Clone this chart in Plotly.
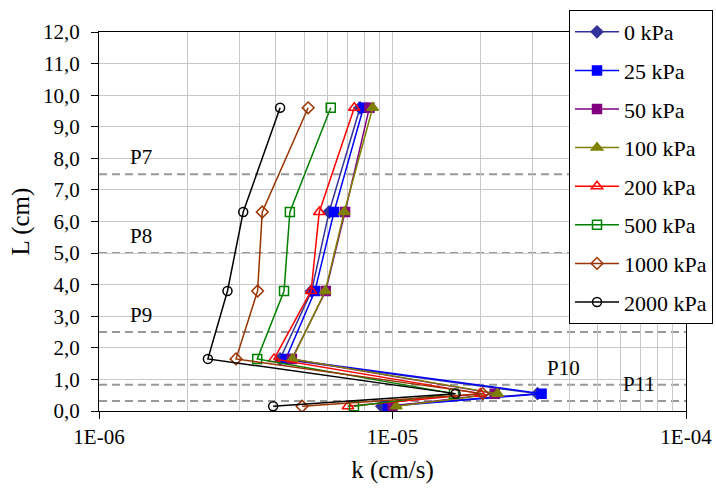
import plotly.graph_objects as go

# Sample depth of each measurement (cm)
depth_cm = [9.6, 6.3, 3.8, 1.65, 0.55, 0.15]

# Hydraulic conductivity k (cm/s) per confining pressure
k_0 = [7.75e-6, 6.08e-6, 5.30e-6, 4.14e-6, 3.12e-5, 9.20e-6]
k_25 = [7.96e-6, 6.32e-6, 5.44e-6, 4.33e-6, 3.22e-5, 9.66e-6]
k_50 = [8.34e-6, 6.89e-6, 5.92e-6, 4.54e-6, 2.23e-5, 1.00e-5]
k_100 = [8.56e-6, 6.85e-6, 5.90e-6, 4.56e-6, 2.28e-5, 1.03e-5]
k_200 = [7.41e-6, 5.63e-6, 5.28e-6, 3.95e-6, 1.99e-5, 7.05e-6]
k_500 = [6.16e-6, 4.47e-6, 4.27e-6, 3.46e-6, 1.62e-5, 7.39e-6]
k_1000 = [5.16e-6, 3.60e-6, 3.47e-6, 2.93e-6, 2.03e-5, 4.92e-6]
k_2000 = [4.14e-6, 3.10e-6, 2.74e-6, 2.35e-6, 1.64e-5, 3.92e-6]

series_names = ["0 kPa", "25 kPa", "50 kPa", "100 kPa",
                "200 kPa", "500 kPa", "1000 kPa", "2000 kPa"]
series_values = [k_0, k_25, k_50, k_100, k_200, k_500, k_1000, k_2000]

# Probe boundaries (cm) and their labels
probe_levels = [7.5, 5.0, 2.5, 0.83, 0.32]
probe_labels = ["P7", "P8", "P9", "P10", "P11"]
probe_label_x = [0.05, 0.05, 0.05, 0.76, 0.89]

y_ticks = list(range(0, 13))
x_ticks = [1e-6, 1e-5, 1e-4]
x_tick_text = ["1E-06", "1E-05", "1E-04"]

styles = [
    dict(color="#333399", symbol="diamond", filled=True),
    dict(color="#0000FF", symbol="square", filled=True),
    dict(color="#800080", symbol="square", filled=True),
    dict(color="#808000", symbol="triangle-up", filled=True),
    dict(color="#FF0000", symbol="triangle-up", filled=False),
    dict(color="#008000", symbol="square", filled=False),
    dict(color="#993300", symbol="diamond", filled=False),
    dict(color="#000000", symbol="circle", filled=False),
]

FONT = "Liberation Serif"

fig = go.Figure()
for name, vals, st in zip(series_names, series_values, styles):
    sym = st["symbol"] if st["filled"] else st["symbol"] + "-open"
    fig.add_trace(go.Scatter(
        x=vals, y=depth_cm, name=name, mode="lines+markers",
        legendgroup=name,
        line=dict(color=st["color"], width=1.5),
        marker=dict(symbol=sym, size=9 if st["symbol"] != "triangle-up" else 10,
                    color=st["color"],
                    line=dict(color=st["color"], width=1.5)),
    ))

for lvl in probe_levels:
    fig.add_shape(type="line", xref="x domain", x0=0, x1=1, yref="y",
                  y0=lvl, y1=lvl, layer="below",
                  line=dict(color="#999999", width=2, dash="8px,5px"))

for lbl, lvl, px in zip(probe_labels, probe_levels, probe_label_x):
    fig.add_annotation(text=lbl, xref="x domain", yref="y", x=px, y=lvl,
                       xanchor="left", yanchor="bottom", yshift=3,
                       showarrow=False, font=dict(family=FONT, size=21, color="black"))

minor_grid = [m * 10.0 ** e for e in (-6, -5) for m in range(2, 10)]

fig.update_layout(
    width=716, height=491,
    margin=dict(l=99, r=30, t=32, b=80, autoexpand=False),
    paper_bgcolor="white", plot_bgcolor="white",
    font=dict(family=FONT, size=21, color="black"),
    xaxis=dict(
        type="log", range=[-6, -4],
        tickvals=x_ticks, ticktext=x_tick_text,
        ticks="outside", ticklen=7, tickcolor="black",
        showline=True, linecolor="black", linewidth=1, mirror=True,
        showgrid=True, gridcolor="#c8c8c8", gridwidth=1,
        minor=dict(tickvals=minor_grid, showgrid=True, gridcolor="#c8c8c8",
                   gridwidth=1, ticks=""),
        zeroline=False,
        title=dict(text="k (cm/s)", standoff=12),
    ),
    yaxis=dict(
        range=[0, 12],
        tickvals=y_ticks, ticktext=[f"{v:.1f}".replace(".", ",") for v in y_ticks],
        ticks="outside", ticklen=7, tickcolor="black", ticklabelstandoff=7,
        showline=True, linecolor="black", linewidth=1, mirror=True,
        showgrid=True, gridcolor="#c8c8c8", gridwidth=1,
        zeroline=False,
        title=dict(text="L (cm)", standoff=6),
    ),
    legend=dict(
        x=0.8007, y=1.058, xanchor="left", yanchor="top",
        bgcolor="white", bordercolor="black", borderwidth=1,
        font=dict(family=FONT, size=22, color="black"),
        tracegroupgap=7, itemwidth=44, maxheight=480,
    ),
)

fig.write_html("out.html")
